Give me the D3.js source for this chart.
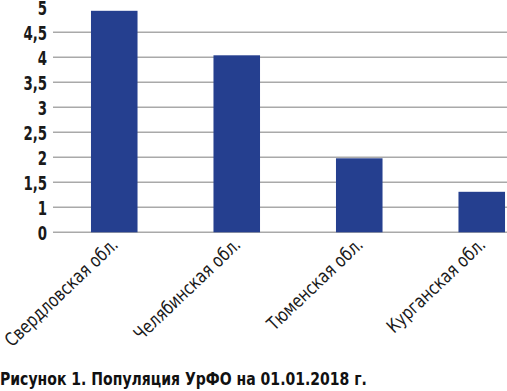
<!DOCTYPE html>
<html>
<head>
<meta charset="utf-8">
<script src="https://cdn.jsdelivr.net/npm/d3@7"></script>
<style>
  html, body { margin: 0; padding: 0; background: #fff; }
  svg { display: block; }
  .cond { font-family: "Liberation Sans Narrow", "DejaVu Sans Condensed", "Roboto", sans-serif; }
</style>
</head>
<body>
<div id="chart"></div>
<script>
// ---- Data ------------------------------------------------------------------
var regions = ['Свердловская обл.', 'Челябинская обл.', 'Тюменская обл.', 'Курганская обл.'];
var population = [4.93, 4.04, 1.98, 1.31];
// the printed axis skips 0,5: labels as they appear on the figure
var tickValues = [0, 1, 1.5, 2, 2.5, 3, 3.5, 4, 4.5, 5];
var caption = 'Рисунок 1. Популяция УрФО на 01.01.2018 г.';

// ---- Layout ----------------------------------------------------------------
var W = 507, H = 391;
var plotLeft = 53, plotRight = 543;   // right side of the plot is cut by the frame
var yZero = 232.3, yOne = 207.3, yTop = 7.3;

var svg = d3.select('#chart').append('svg')
  .attr('width', W)
  .attr('height', H);

// piecewise scale: 0..1 takes one grid step, like on the printed figure
var y = d3.scaleLinear()
  .domain([0, 1, 5])
  .range([yZero, yOne, yTop]);

var x = d3.scaleBand()
  .domain(regions)
  .range([plotLeft, plotRight])
  .paddingInner(0.62)
  .paddingOuter(0.31);

// squeeze a text horizontally so it looks like the condensed print face
function squeeze(sel, factor) {
  sel.each(function() {
    var t = d3.select(this);
    var prev = t.attr('transform') || '';
    t.attr('transform', prev + ' scale(' + factor + ',1)');
  });
}

// gridlines (no line at 5)
svg.append('g')
  .selectAll('line')
  .data(tickValues.filter(function(d) { return d < 5; }))
  .join('line')
  .attr('x1', plotLeft).attr('x2', W)
  .attr('y1', function(d) { return y(d); })
  .attr('y2', function(d) { return y(d); })
  .attr('stroke', '#a9a9a9')
  .attr('stroke-width', 1.6);

// y tick labels
var yLabels = svg.append('g')
  .attr('class', 'cond')
  .selectAll('text')
  .data(tickValues)
  .join('text')
  .attr('transform', function(d) { return 'translate(47,' + y(d) + ')'; })
  .attr('dy', '0.42em')
  .attr('text-anchor', 'end')
  .attr('font-size', 19)
  .attr('font-weight', 'bold')
  .attr('fill', '#1a1a1a')
  .text(function(d) { return String(d).replace('.', ','); });
squeeze(yLabels, 0.78);

// bars
svg.append('g')
  .selectAll('rect')
  .data(population)
  .join('rect')
  .attr('x', function(d, i) { return x(regions[i]); })
  .attr('width', x.bandwidth())
  .attr('y', function(d) { return y(d); })
  .attr('height', function(d) { return yZero - y(d); })
  .attr('fill', '#253f8f');

// category labels, rotated
var xLabels = svg.append('g')
  .attr('class', 'cond')
  .selectAll('text')
  .data(regions)
  .join('text')
  .attr('transform', function(d) {
    return 'translate(' + (x(d) + x.bandwidth() / 2 + 5) + ',' + 246 + ') rotate(-43.5)';
  })
  .attr('text-anchor', 'end')
  .attr('font-size', 18.5)
  .attr('fill', '#1a1a1a')
  .text(function(d) { return d; });
var firstLen = xLabels.node().getComputedTextLength();
squeeze(xLabels, 148 / firstLen);

// caption
var cap = svg.append('text')
  .attr('class', 'cond')
  .attr('transform', 'translate(0,385)')
  .attr('font-size', 18.5)
  .attr('font-weight', 'bold')
  .attr('fill', '#111')
  .text(caption);
squeeze(cap, 367 / cap.node().getComputedTextLength());
</script>
</body>
</html>
